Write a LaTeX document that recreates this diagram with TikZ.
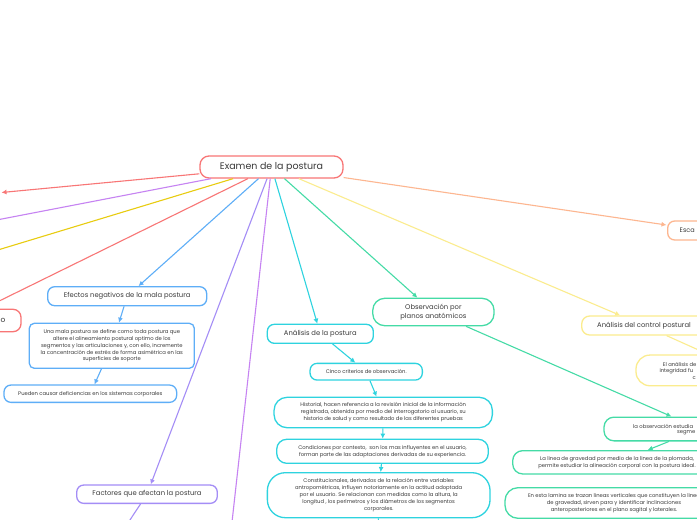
\documentclass[tikz,border=0pt]{standalone}
\usepackage{fontspec}
\setmainfont{Poppins}
\usetikzlibrary{arrows.meta}
\definecolor{cred}{HTML}{F87676}
\definecolor{cpur}{HTML}{C683F2}
\definecolor{cgold}{HTML}{E8CC10}
\definecolor{cblue}{HTML}{5EAEF7}
\definecolor{clav}{HTML}{A48DF6}
\definecolor{ccyan}{HTML}{2ED3DF}
\definecolor{cmint}{HTML}{45DBA6}
\definecolor{clyel}{HTML}{FBEC8E}
\definecolor{corg}{HTML}{FDB690}
\definecolor{txt}{HTML}{3A3A3A}
\begin{document}
\begin{tikzpicture}[x=1pt,y=-1pt,
  box/.style={draw, fill=white, line width=1.3pt, inner sep=0pt, align=center, text=txt, rounded corners=#1},
  box/.default=8pt,
  conn/.style={line width=1.1pt, -{Latex[length=5pt,width=5pt]}},
  plain/.style={line width=1.1pt},
  big/.style={font=\fontsize{9.5}{11}\selectfont},
  mid/.style={font=\fontsize{6.8}{8.4}\selectfont},
  sml/.style={font=\fontsize{5.25}{6.9}\selectfont},
  frag/.style={text=txt, inner sep=0pt, anchor=west}]
\useasboundingbox (0,0) rectangle (697,520);
\clip (0,0) rectangle (697,520);
\fill[white] (0,0) rectangle (697,520);

% ---- nodes ----
\node[box=9pt, draw=cred, big, minimum width=143pt, minimum height=22pt] (root) at (271.5,167) {Examen de la postura};

\node[box=8pt, draw=cred, mid, minimum width=101pt, minimum height=22.4pt] (leftbox) at (-29.5,320.5) {};
\node[frag, anchor=west, font=\fontsize{7.5}{8}\selectfont] (lefttxt) at (0.5,320.5) {o};

\node[box=7pt, draw=cblue, mid, minimum width=159pt, minimum height=19pt] (efe) at (127.2,296.2) {Efectos negativos de la mala postura};
\node[box=5pt, draw=cblue, sml, minimum width=165pt, minimum height=45pt] (una) at (111.8,345.8) {Una mala postura se define como toda postura que\\altere el alineamiento postural optimo de los\\segmentos y las articulaciones y, con ello, incremente\\la concentración de estrés de forma asimétrica en las\\superficies de soporte};
\node[box=7pt, draw=cblue, sml, minimum width=172.7pt, minimum height=17.3pt] (pue) at (90.3,393.7) {Pueden causar deficiencias en los sistemas corporales};

\node[box=7pt, draw=clav, mid, minimum width=140.6pt, minimum height=18.3pt] (fac) at (147,494.2) {Factores que afectan la postura};

\node[box=7pt, draw=ccyan, mid, minimum width=106pt, minimum height=19pt] (ana) at (320.3,333.8) {Análisis de la postura};
\node[box=7pt, draw=ccyan, sml, minimum width=112.3pt, minimum height=16.7pt] (cin) at (366.2,371.7) {Cinco criterios de observación.};
\node[box=13pt, draw=ccyan, sml, minimum width=218.3pt, minimum height=30.4pt] (his) at (383.2,412.5) {Historial, hacen referencia a la revisión inicial de la información\\registrada, obtenida por medio del interrogatorio al usuario, su\\historia de salud y como resultado de las diferentes pruebas};
\node[box=10pt, draw=ccyan, sml, minimum width=211.6pt, minimum height=24pt] (con) at (382.5,451.3) {Condiciones por contexto,\ \ son los mas influyentes en el usuario,\\forman parte de las adaptaciones derivadas de su experiencia.};
\node[box=18pt, draw=ccyan, sml, minimum width=222.7pt, minimum height=45pt] (cst) at (378.7,495.2) {Constitucionales, derivados de la relación entre variables\\antropométricas, influyen notoriamente en la actitud adoptada\\por el usuario. Se relacionan con medidas como la altura, la\\longitud , los perímetros y los diámetros de los segmentos\\corporales.};

\node[box=12pt, draw=cmint, mid, minimum width=121.3pt, minimum height=27.4pt] (obs) at (433.4,312) {Observación por\\planos anatómicos};
\node[box=10pt, draw=cmint, sml, minimum width=192pt, minimum height=23.7pt] (lob) at (700,429) {};
\node[frag, sml] (lobt1) at (633,426) {la observación estudia};
\node[frag, sml] (lobt2) at (677,433) {segme};
\node[box=10pt, draw=cmint, sml, minimum width=208.6pt, minimum height=23.3pt] (lin) at (617,462.3) {La linea de gravedad por medio de la linea de la plomada,\\permite estudiar la alineación corporal con la postura ideal.};
\node[box=13pt, draw=cmint, sml, minimum width=218pt, minimum height=30.6pt] (lam) at (614,503) {En esta lamina se trazan lineas verticales que constituyen la linea\\de gravedad, sirven para y identificar inclinaciones\\anteroposteriores en el plano sagital y laterales.};

\node[box=8pt, draw=clyel, mid, minimum width=124.6pt, minimum height=19pt] (ctl) at (644,325.5) {Análisis del control postural};
\node[box=14pt, draw=clyel, sml, minimum width=216pt, minimum height=30.7pt] (ela) at (744,370.4) {};
\node[frag, sml] (elat1) at (662.7,364.3) {El análisis de};
\node[frag, sml] (elat2) at (659.3,371) {integridad fu};
\node[frag, sml] (elat3) at (692.5,377.7) {c};

\node[box=7pt, draw=corg, mid, minimum width=80pt, minimum height=19pt] (esc) at (707.7,230.5) {};
\node[frag, font=\fontsize{6.5}{8}\selectfont] (esct) at (679.5,230.5) {Esca};

% ---- free ends ----
\coordinate (offa) at (1.5,192.5);
\coordinate (offp) at (-20,223.2);
\coordinate (offg) at (-20,255.4);
\coordinate (offr) at (-15,308);
\coordinate (offv) at (230,540);
\coordinate (offf) at (120,535);
\coordinate (offc) at (378,540);
\coordinate (escin) at (666.5,225);

% ---- connectors ----
\draw[conn, cred] (root) -- (offa);
\draw[plain, cpur] (root) -- (offp);
\draw[plain, cgold] (root) -- (offg);
\draw[conn, cred] (root) -- (offr);
\draw[conn, cblue] (root) -- (efe);
\draw[conn, clav] (root) -- (fac);
\draw[plain, cpur] (root) -- (offv);
\draw[conn, ccyan] (root) -- (ana);
\draw[conn, cmint] (root) -- (obs);
\draw[conn, clyel] (root) -- (ctl);
\draw[conn, corg] (root) -- (escin);

\draw[conn, cblue] (efe) -- (una);
\draw[conn, cblue] (una) -- (pue);
\draw[plain, clav] (fac) -- (offf);
\draw[conn, ccyan] (ana) -- (cin);
\draw[conn, ccyan] (cin) -- (his);
\draw[conn, ccyan] (his) -- (con);
\draw[conn, ccyan] (con) -- (cst);
\draw[plain, ccyan] (cst) -- (offc);
\draw[conn, cmint] (obs) -- (lob);
\draw[conn, cmint] (lob) -- (lin);
\draw[conn, clyel] (ctl) -- (ela);
\end{tikzpicture}
\end{document}
